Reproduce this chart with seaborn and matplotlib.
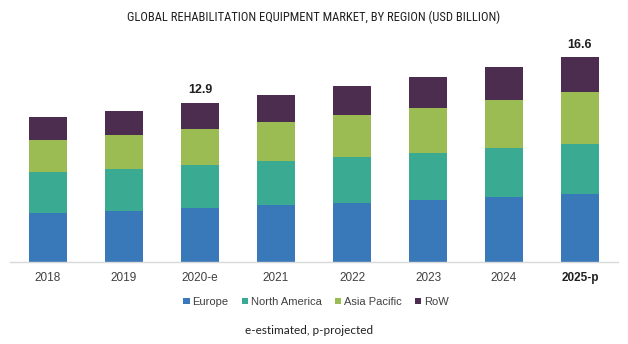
import matplotlib
matplotlib.use("Agg")
import matplotlib.pyplot as plt
import seaborn as sns
import pandas as pd
import numpy as np
from matplotlib.patches import Patch

years = ["2018", "2019", "2020-e", "2021", "2022", "2023", "2024", "2025-p"]
europe = [3.96, 4.15, 4.37, 4.59, 4.77, 5.02, 5.26, 5.50]
north_america = [3.32, 3.35, 3.45, 3.58, 3.72, 3.80, 3.94, 4.04]
asia_pacific = [2.56, 2.78, 2.96, 3.18, 3.37, 3.62, 3.88, 4.20]
row = [1.89, 1.92, 2.12, 2.18, 2.35, 2.53, 2.67, 2.86]
regions = ["Europe", "North America", "Asia Pacific", "RoW"]
colors = ["#3A79B9", "#3AAA93", "#9BBB53", "#4C2C4F"]
labelled = {"2020-e": 12.9, "2025-p": 16.6}

sns.set_theme(style="white")
plt.rcParams["font.family"] = ["Liberation Sans", "DejaVu Sans"]

df = pd.DataFrame({"year": years, "Europe": europe, "North America": north_america,
                   "Asia Pacific": asia_pacific, "RoW": row})
cum = df[regions].cumsum(axis=1)

fig = plt.figure(figsize=(6.28, 3.44), dpi=100)
ax = fig.add_axes([10 / 628, 1 - 262 / 344, 608 / 628, 222 / 344])

# stacked bars: draw cumulative totals from the top layer down
for reg, col in reversed(list(zip(regions, colors))):
    sns.barplot(x=df["year"], y=cum[reg], color=col, width=0.5, ax=ax,
                saturation=1, edgecolor="none", linewidth=0)

ax.set_ylim(0, 222 / 12.36)
ax.set_xlim(-0.5, len(years) - 0.5)
ax.set_xlabel("")
ax.set_ylabel("")
ax.set_yticks([])
for s in ["top", "right", "left"]:
    ax.spines[s].set_visible(False)
ax.spines["bottom"].set_color("#D9D9D9")
ax.spines["bottom"].set_linewidth(1.0)
ax.tick_params(axis="x", length=0, pad=7, labelsize=8.5, labelcolor="#404040")
for lbl in ax.get_xticklabels():
    if lbl.get_text() == "2025-p":
        lbl.set_fontweight("bold")
        lbl.set_color("#202020")

totals = cum["RoW"].values
for i, y in enumerate(years):
    if y in labelled:
        ax.annotate(f"{labelled[y]:.1f}", (i, totals[i]), xytext=(0, 4.5),
                    textcoords="offset points", ha="center", va="bottom",
                    fontsize=9, fontweight="bold", color="#202020")

fig.text(0.5, 1 - 17 / 344, "GLOBAL REHABILITATION EQUIPMENT MARKET, BY REGION (USD BILLION)",
         ha="center", va="center", fontsize=9,
         family=["Roboto Condensed", "Liberation Sans Narrow", "Roboto", "DejaVu Sans"],
         color="#202020")

handles = [Patch(facecolor=c, edgecolor="none", label=r) for r, c in zip(regions, colors)]
fig.legend(handles=handles, loc="center", bbox_to_anchor=(316 / 628, 1 - 302 / 344),
           ncol=4, frameon=False, fontsize=8, handlelength=0.55, handleheight=0.55,
           handletextpad=0.25, columnspacing=1.2, labelcolor="#404040")

fig.text(309 / 628, 1 - 330 / 344, "e-estimated, p-projected", ha="center", va="center",
         fontsize=8.5, family=["Lato", "DejaVu Sans"], color="#202020")

fig.savefig("out.png", dpi=100)
